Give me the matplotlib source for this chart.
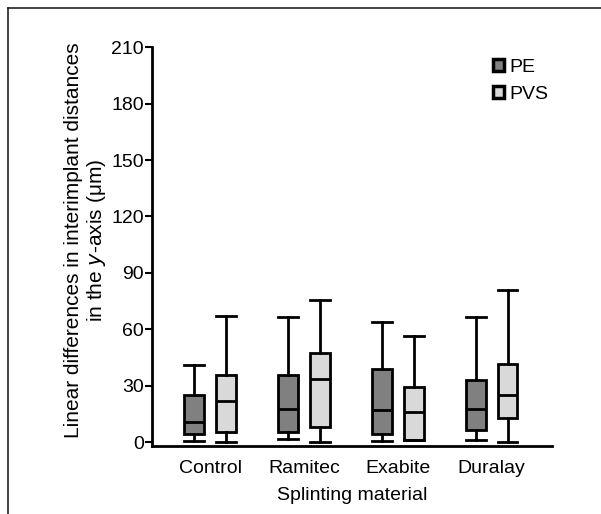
import matplotlib.pyplot as plt
from matplotlib.patches import Patch
from matplotlib.lines import Line2D

plt.rcParams['font.family'] = ['Liberation Sans', 'DejaVu Sans']

materials = ["Control", "Ramitec", "Exabite", "Duralay"]
groups = ["PE", "PVS"]
group_colors = {"PE": "#808080", "PVS": "#d9d9d9"}

# box statistics per material (um)
pe_whislo = [0.5, 1.6, 0.5, 1.0]
pe_q1 = [4.3, 5.3, 4.3, 6.4]
pe_med = [10.6, 17.5, 17.0, 17.5]
pe_q3 = [25.0, 35.6, 39.0, 33.0]
pe_whishi = [41.0, 66.5, 64.0, 66.5]

pvs_whislo = [0.0, 0.0, 1.0, 0.0]
pvs_q1 = [5.3, 8.0, 1.0, 12.8]
pvs_med = [21.8, 33.5, 16.0, 25.0]
pvs_q3 = [35.6, 47.3, 29.2, 41.5]
pvs_whishi = [67.0, 75.5, 56.4, 81.0]

yticks = [0, 30, 60, 90, 120, 150, 180, 210]
fs = 14


def stats(lo, q1, med, q3, hi):
    return [dict(whislo=a, q1=b, med=c, q3=d, whishi=e, fliers=[])
            for a, b, c, d, e in zip(lo, q1, med, q3, hi)]


fig = plt.figure(figsize=(6.01, 5.14), dpi=100)
ax = fig.add_axes([0.253, 0.132, 0.665, 0.776])

series = {
    "PE": stats(pe_whislo, pe_q1, pe_med, pe_q3, pe_whishi),
    "PVS": stats(pvs_whislo, pvs_q1, pvs_med, pvs_q3, pvs_whishi),
}
offsets = {"PE": -0.17, "PVS": 0.17}
line = dict(color="black", linewidth=2)
for g in groups:
    pos = [i + offsets[g] for i in range(len(materials))]
    ax.bxp(series[g], positions=pos, widths=0.21, patch_artist=True,
           showfliers=False,
           boxprops=dict(facecolor=group_colors[g], edgecolor="black", linewidth=2),
           medianprops=line, whiskerprops=line, capprops=line, capwidths=0.21)

ax.set_xlim(-0.62, 3.64)
ax.set_ylim(-2.2, 210)
ax.set_xticks(range(len(materials)))
ax.set_xticklabels(materials, fontsize=fs)
ax.set_yticks(yticks)
ax.set_yticklabels([str(v) for v in yticks], fontsize=fs)
ax.tick_params(axis="x", length=0, pad=10)
ax.tick_params(axis="y", length=5, width=1.5, pad=1)
for s in ["top", "right"]:
    ax.spines[s].set_visible(False)
ax.spines["left"].set_linewidth(2)
ax.spines["bottom"].set_linewidth(2)

ax.set_xlabel("Splinting material", fontsize=fs, labelpad=7)
ax.set_ylabel("Linear differences in interimplant distances\nin the $y$-axis (μm)",
              fontsize=15, linespacing=1.1)
ax.yaxis.set_label_coords(-0.11, 0.516)

handles = [Patch(facecolor=group_colors[g], edgecolor="black", linewidth=2.5) for g in groups]
ax.legend(handles, groups, loc="upper left", bbox_to_anchor=(0.82, 1.005),
          frameon=False, fontsize=fs, handlelength=0.55, handleheight=0.55,
          handletextpad=0.25, labelspacing=0.5, borderpad=0.2)

# frame on left and top of the figure
fig.add_artist(Line2D([8 / 601, 8 / 601], [0, 1 - 8 / 514], color="#222222",
                      linewidth=1.2, transform=fig.transFigure))
fig.add_artist(Line2D([8 / 601, 1], [1 - 8 / 514, 1 - 8 / 514], color="#222222",
                      linewidth=1.2, transform=fig.transFigure))

fig.savefig("out.png", dpi=100)
